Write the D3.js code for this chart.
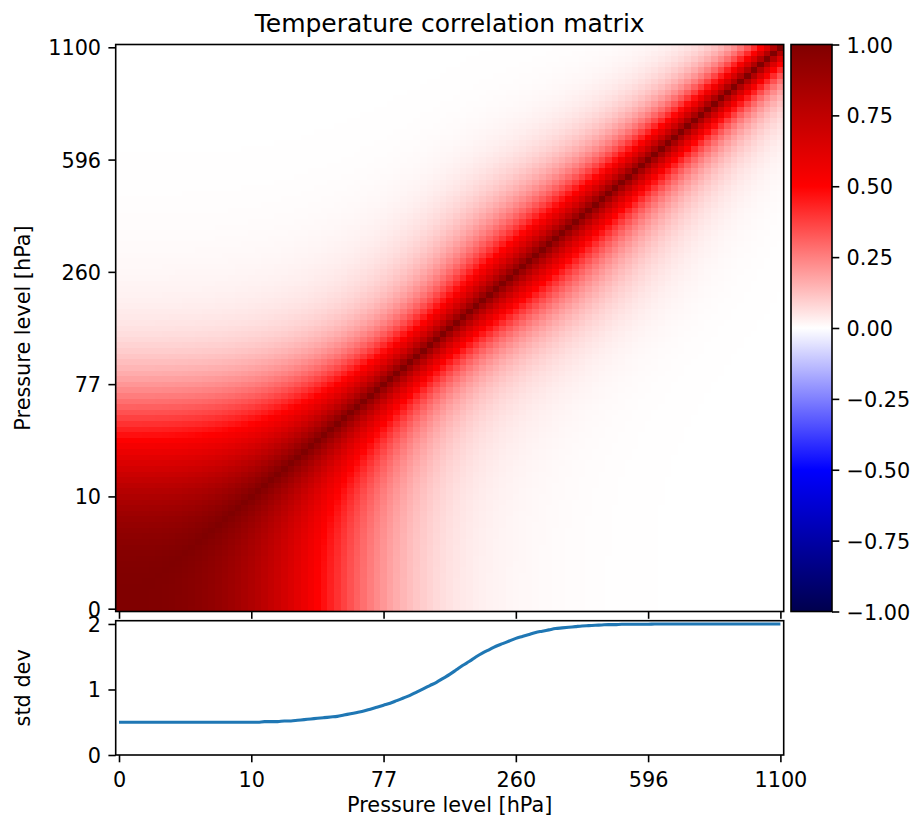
<!DOCTYPE html>
<html>
<head>
<meta charset="utf-8">
<script src="https://cdn.jsdelivr.net/npm/d3@7"></script>
<style>
  body { margin: 0; background: #fff; }
  text { font-family: "DejaVu Sans", sans-serif; fill: #000; }
</style>
</head>
<body>
<svg id="chart" width="914" height="825"></svg>
<script>
// ---------------- data ----------------
// Pressure value (hPa) of each of the 101 model levels (index 0 .. 100)
const levels = [0, 0.0012, 0.0096, 0.0324, 0.077, 0.15, 0.26, 0.41, 0.61, 0.87, 1.2,
  1.6, 2.07, 2.64, 3.29, 4.05, 4.92, 5.9, 7.0, 8.23, 9.6,
  11.11, 12.78, 14.6, 16.59, 18.75, 21.09, 23.62, 26.34, 29.27, 32.4,
  35.75, 39.32, 43.12, 47.16, 51.45, 55.99, 60.78, 65.85, 71.18, 76.8,
  82.71, 88.91, 95.41, 102.22, 109.35, 116.8, 124.59, 132.71, 141.18, 150,
  159.18, 168.73, 178.65, 188.96, 199.65, 210.74, 222.23, 234.13, 246.45, 259.2,
  272.35, 285.87, 299.77, 314.05, 328.71, 343.76, 359.19, 375.01, 391.22, 407.83,
  424.83, 442.22, 460.02, 478.22, 496.83, 515.84, 535.26, 555.09, 575.34, 596.0,
  617.08, 638.58, 660.5, 682.85, 705.62, 728.83, 752.46, 776.53, 801.03, 825.98,
  851.36, 877.18, 903.45, 930.17, 957.34, 984.96, 1013.03, 1041.56, 1070.55, 1100];

// local correlation length (hPa) at each level, estimated from the matrix
const corrLength = [47.0, 47.0, 47.0, 47.0, 47.0, 47.0, 47.0, 47.0, 47.0, 47.0, 47.0,
  47.0, 47.0, 47.0, 47.0, 47.1, 47.1, 47.1, 47.1, 47.2, 47.2,
  47.2, 47.3, 47.3, 47.4, 47.5, 47.5, 47.6, 47.7, 47.9, 48.0,
  48.1, 48.3, 48.5, 48.7, 49.0, 49.3, 49.6, 50.1, 50.5, 51.1,
  51.8, 52.6, 53.5, 54.6, 55.9, 57.4, 59.2, 61.4, 63.9, 66.8,
  70.1, 74.0, 78.2, 82.8, 87.8, 93.0, 98.2, 103.2, 107.9, 112.2,
  116.0, 119.2, 121.7, 123.8, 125.4, 126.7, 127.6, 128.3, 128.8, 129.2,
  129.4, 129.6, 129.7, 129.8, 129.9, 129.9, 129.9, 130, 130, 130,
  130, 130, 130, 130, 130, 130, 130, 130, 130, 130,
  130, 130, 130, 130, 130, 130, 130, 130, 130, 130];

// standard deviation per level
const stdDev = [0.5, 0.5, 0.5, 0.5, 0.5, 0.5, 0.5, 0.5, 0.5, 0.5, 0.5,
  0.5, 0.5, 0.5, 0.5, 0.5, 0.5, 0.5, 0.5, 0.5, 0.5,
  0.50, 0.51, 0.51, 0.51, 0.52, 0.52, 0.53, 0.54, 0.55, 0.56,
  0.57, 0.58, 0.59, 0.61, 0.63, 0.65, 0.67, 0.70, 0.73, 0.76,
  0.79, 0.83, 0.87, 0.91, 0.96, 1.01, 1.06, 1.11, 1.17, 1.23,
  1.30, 1.37, 1.43, 1.50, 1.56, 1.61, 1.66, 1.70, 1.74, 1.78,
  1.81, 1.84, 1.87, 1.89, 1.91, 1.93, 1.94, 1.95, 1.96, 1.97,
  1.975, 1.98, 1.985, 1.99, 1.99, 1.995, 1.995, 1.995, 1.995, 1.995,
  2.0, 2.0, 2.0, 2.0, 2.0, 2.0, 2.0, 2.0, 2.0, 2.0,
  2.0, 2.0, 2.0, 2.0, 2.0, 2.0, 2.0, 2.0, 2.0, 2.0];

const tickIndex = [0, 20, 40, 60, 80, 100];
const tickLabels = ["0", "10", "77", "260", "596", "1100"];
const colorbarTicks = [-1, -0.75, -0.5, -0.25, 0, 0.25, 0.5, 0.75, 1];
const stdTicks = [0, 1, 2];

// ---------------- layout ----------------
const svg = d3.select("#chart");
const FS = 20.8;           // tick / label font size
const TICK = 7.3;
const SW = 1.6;
const M = { left: 115.7, right: 783.7, top: 44.5, bottom: 611.5 };
const B = { top: 620.7, bottom: 755 };
const CB = { left: 791, right: 832 };

const n = levels.length;
const x = d3.scaleLinear().domain([-0.5, n - 0.5]).range([M.left, M.right]);
const y = d3.scaleLinear().domain([-0.5, n - 0.5]).range([M.bottom, M.top]);

// matplotlib "seismic" colormap
const color = d3.scaleLinear()
  .domain([-1, -0.5, 0, 0.5, 1])
  .range(["rgb(0,0,77)", "rgb(0,0,255)", "rgb(255,255,255)", "rgb(255,0,0)", "rgb(128,0,0)"])
  .interpolate(d3.interpolateRgb)
  .clamp(true);

// correlation matrix: exponential correlation in the stretched coordinate
// z = integral of dp / corrLength(p)
const zc = [0];
for (let k = 1; k < n; k++) {
  zc.push(zc[k - 1] + (levels[k] - levels[k - 1]) * 0.5 * (1 / corrLength[k - 1] + 1 / corrLength[k]));
}
const cells = [];
for (let i = 0; i < n; i++) for (let j = 0; j < n; j++) {
  cells.push({ i, j, v: Math.exp(-Math.abs(zc[i] - zc[j])) });
}

function styleAxis(g) {
  g.select(".domain").remove();
  g.selectAll(".tick line").attr("stroke", "#000").attr("stroke-width", SW);
  g.selectAll(".tick text").attr("fill", "#000")
    .style("font-size", FS + "px").style("font-family", "DejaVu Sans, sans-serif");
}

// ---------------- heatmap ----------------
const cw = x(0.5) - x(-0.5), ch = y(-0.5) - y(0.5);
svg.append("g").attr("shape-rendering", "crispEdges")
  .selectAll("rect").data(cells).join("rect")
  .attr("x", d => x(d.j - 0.5))
  .attr("y", d => y(d.i + 0.5))
  .attr("width", cw + 0.4)
  .attr("height", ch + 0.4)
  .attr("fill", d => color(d.v));

svg.append("g").attr("transform", `translate(${M.left},0)`)
  .call(d3.axisLeft(y).tickValues(tickIndex).tickFormat((d, k) => tickLabels[k])
    .tickSize(TICK).tickPadding(TICK))
  .call(styleAxis)
  .call(g => g.selectAll(".tick text").attr("dy", "0.36em"));

svg.append("g").attr("transform", `translate(0,${M.bottom})`)
  .call(d3.axisBottom(x).tickValues(tickIndex).tickFormat("").tickSize(TICK))
  .call(styleAxis);

svg.append("rect").attr("x", M.left).attr("y", M.top)
  .attr("width", M.right - M.left).attr("height", M.bottom - M.top)
  .attr("fill", "none").attr("stroke", "#000").attr("stroke-width", SW);

// ---------------- colorbar ----------------
const cScale = d3.scaleLinear().domain([-1, 1]).range([M.bottom, M.top]);
const grad = svg.append("defs").append("linearGradient").attr("id", "cbgrad")
  .attr("x1", 0).attr("y1", 1).attr("x2", 0).attr("y2", 0);
d3.range(0, 1.0001, 0.025).forEach(t => {
  grad.append("stop").attr("offset", t).attr("stop-color", color(-1 + 2 * t));
});
svg.append("rect").attr("x", CB.left).attr("y", M.top)
  .attr("width", CB.right - CB.left).attr("height", M.bottom - M.top)
  .attr("fill", "url(#cbgrad)").attr("stroke", "#000").attr("stroke-width", SW);

svg.append("g").attr("transform", `translate(${CB.right},0)`)
  .call(d3.axisRight(cScale).tickValues(colorbarTicks).tickFormat(d3.format(".2f"))
    .tickSize(TICK).tickPadding(TICK))
  .call(styleAxis)
  .call(g => g.selectAll(".tick text").attr("dy", "0.36em"));

// ---------------- std dev panel ----------------
const ys = d3.scaleLinear().domain([0, 2.05]).range([B.bottom, B.top]);

svg.append("path")
  .datum(stdDev)
  .attr("d", d3.line().x((d, i) => x(i)).y(d => ys(d)).curve(d3.curveMonotoneX))
  .attr("fill", "none").attr("stroke", "#1f77b4").attr("stroke-width", 3.1)
  .attr("stroke-linejoin", "round").attr("stroke-linecap", "butt");

svg.append("g").attr("transform", `translate(${M.left},0)`)
  .call(d3.axisLeft(ys).tickValues(stdTicks).tickFormat(d3.format("d"))
    .tickSize(TICK).tickPadding(TICK))
  .call(styleAxis)
  .call(g => g.selectAll(".tick text").attr("dy", "0.36em"));

svg.append("g").attr("transform", `translate(0,${B.bottom})`)
  .call(d3.axisBottom(x).tickValues(tickIndex).tickFormat((d, k) => tickLabels[k])
    .tickSize(TICK).tickPadding(TICK))
  .call(styleAxis)
  .call(g => g.selectAll(".tick text").attr("dy", "0.83em"));

svg.append("rect").attr("x", M.left).attr("y", B.top)
  .attr("width", M.right - M.left).attr("height", B.bottom - B.top)
  .attr("fill", "none").attr("stroke", "#000").attr("stroke-width", SW);

// ---------------- text ----------------
svg.append("text").attr("x", (M.left + M.right) / 2).attr("y", 32)
  .attr("text-anchor", "middle").style("font-size", "25px")
  .text("Temperature correlation matrix");

svg.append("text").attr("transform", `translate(30,${(M.top + M.bottom) / 2}) rotate(-90)`)
  .attr("text-anchor", "middle").style("font-size", FS + "px")
  .text("Pressure level [hPa]");

svg.append("text").attr("transform", `translate(30,${(B.top + B.bottom) / 2}) rotate(-90)`)
  .attr("text-anchor", "middle").style("font-size", FS + "px")
  .text("std dev");

svg.append("text").attr("x", (M.left + M.right) / 2).attr("y", 812)
  .attr("text-anchor", "middle").style("font-size", FS + "px")
  .text("Pressure level [hPa]");
</script>
</body>
</html>
